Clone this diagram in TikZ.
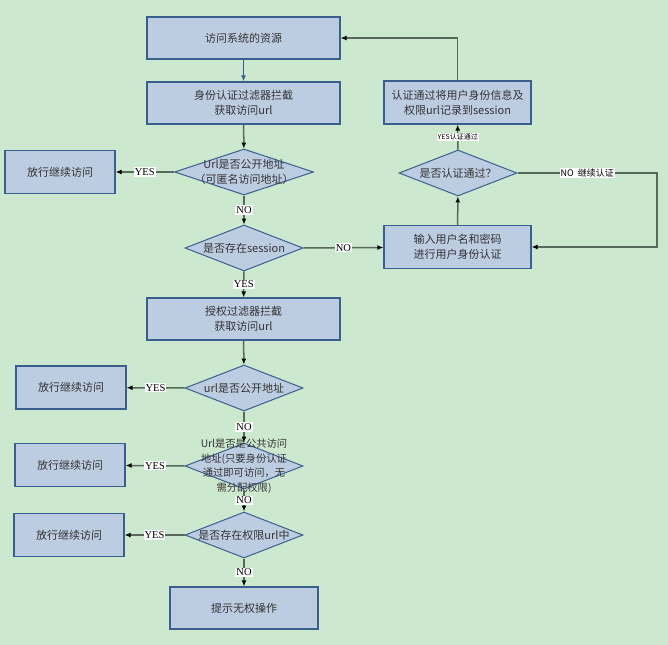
\documentclass[tikz,border=0pt]{standalone}
\usepackage{fontspec}
\usetikzlibrary{shapes.geometric,arrows.meta}
\setmainfont{Liberation Serif}
\newfontfamily\cjk{Noto Sans CJK SC}
\definecolor{bg}{HTML}{CCE8CF}
\definecolor{boxfill}{HTML}{BDCDE1}
\definecolor{boxline}{HTML}{3A5F8F}
\definecolor{linegrey}{HTML}{56695A}
\begin{document}
\begin{tikzpicture}[x=1pt,y=-1pt,
    box/.style={draw=boxline,fill=boxfill,line width=1.2pt,align=center,
      font=\cjk\fontsize{11}{15}\selectfont,text=black!80,
      minimum width=193pt,minimum height=42pt,inner sep=0pt},
    sidebox/.style={box,minimum width=110pt,minimum height=43pt},
    ask/.style={diamond,draw=boxline,fill=boxfill,line width=1pt,
      minimum width=118pt,minimum height=46pt,inner sep=0pt},
    say/.style={align=center,text=black!80,font=\cjk\fontsize{11}{15}\selectfont},
    flow/.style={draw=linegrey,line width=1.5pt,-{Latex[length=6pt,width=5pt,color=black]}},
    tag/.style={fill=white,inner sep=1pt,text=black,font=\fontsize{10.5}{10.5}\selectfont}]
  \useasboundingbox (0,0) rectangle (668,644);
  \fill[bg] (-3,-3) rectangle (671,647);
  % main column
  \node[box] (access) at (243.5,38) {访问系统的资源};
  \node[box] (authn) at (243.5,103) {身份认证过滤器拦截\\获取访问url};
  \node[ask,minimum width=139pt,label={[say]center:Url是否公开地址\\（可匿名访问地址）}] (pub1) at (244,172) {};
  \node[ask,label={[say]center:是否存在session}] (sess) at (244,248) {};
  \node[box] (authz) at (243.5,319) {授权过滤器拦截\\获取访问url};
  \node[ask,label={[say]center:url是否公开地址}] (pub2) at (244,388) {};
  \node[ask,label={[say,font=\cjk\fontsize{10.3}{14.5}\selectfont]center:Url是否是公共访问\\地址(只要身份认证\\通过即可访问，无\\需分配权限)}] (common) at (244,466) {};
  \node[ask,label={[say]center:是否存在权限url中}] (perm) at (244,535) {};
  \node[box,minimum width=148pt] (deny) at (244,608) {提示无权操作};
  % pass boxes on the left
  \node[sidebox] (pass1) at (60,172) {放行继续访问};
  \node[sidebox] (pass2) at (71,387.5) {放行继续访问};
  \node[sidebox] (pass3) at (70,465) {放行继续访问};
  \node[sidebox] (pass4) at (69,535) {放行继续访问};
  % login branch
  \node[box,minimum width=147pt,minimum height=43pt] (login) at (457.5,247) {输入用户名和密码\\进行用户身份认证};
  \node[ask,label={[say]center:是否认证通过？}] (check) at (458,173) {};
  \node[box,minimum width=147pt,minimum height=43pt] (save) at (457.5,102.5) {认证通过将用户身份信息及\\权限url记录到session};
  \coordinate (turn) at (657,0);
  % connectors
  \draw[draw=boxline,line width=1.5pt,-{Latex[length=6pt,width=5pt]}] (access) -- (authn);
  \draw[flow] (authn) -- (pub1);
  \draw[flow] (pub1.west) -- node[tag]{YES} (pass1);
  \draw[flow] (pub1) -- node[tag]{NO} (sess);
  \draw[flow] (sess.east) -- node[tag]{NO} (login);
  \draw[flow] (login) -- (check);
  \draw[flow] (check) -- node[tag,font=\cjk\fontsize{7}{7}\selectfont]{YES认证通过} (save);
  \draw[flow] (save.north) |- (access.east);
  \draw[flow] (check.east) -- node[tag,font=\cjk\fontsize{9}{9}\selectfont]{NO\ \ 继续认证} (check.east -| turn) |- (login.east);
  \draw[flow] (sess) -- node[tag]{YES} (authz);
  \draw[flow] (authz) -- (pub2);
  \draw[flow] (pub2.west) -- node[tag]{YES} (pass2);
  \draw[flow] (pub2) -- node[tag]{NO} (common);
  \draw[flow] (common.west) -- node[tag]{YES} (pass3);
  \draw[flow] (common) -- node[tag]{NO} (perm);
  \draw[flow] (perm.west) -- node[tag]{YES} (pass4);
  \draw[flow] (perm) -- node[tag]{NO} (deny);
\end{tikzpicture}
\end{document}
